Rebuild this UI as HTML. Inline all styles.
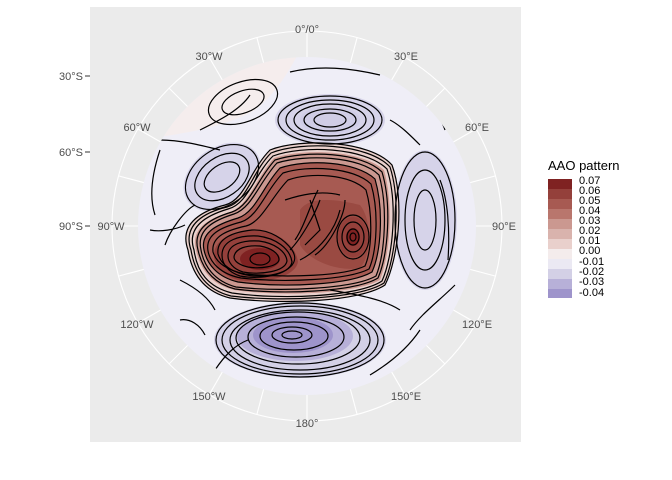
<!DOCTYPE html>
<html><head><style>
body{margin:0;background:#fff;}
svg{display:block;font-family:"Liberation Sans",sans-serif;}
</style></head><body>
<svg width="672" height="480" viewBox="0 0 672 480">
<defs>
<clipPath id="d"><circle cx="307" cy="226" r="169"/></clipPath>
</defs>
<rect x="90" y="7" width="431" height="435" fill="#EBEBEB"/>
<g stroke="#fff" stroke-width="1.1" fill="none">
<circle cx="307" cy="226" r="195"/>
<line x1="307" y1="226" x2="307" y2="31"/>
<line x1="307" y1="226" x2="357" y2="38"/>
<line x1="307" y1="226" x2="405" y2="57"/>
<line x1="307" y1="226" x2="445" y2="88"/>
<line x1="307" y1="226" x2="476" y2="129"/>
<line x1="307" y1="226" x2="495" y2="176"/>
<line x1="307" y1="226" x2="502" y2="226"/>
<line x1="307" y1="226" x2="495" y2="276"/>
<line x1="307" y1="226" x2="476" y2="323"/>
<line x1="307" y1="226" x2="445" y2="364"/>
<line x1="307" y1="226" x2="405" y2="395"/>
<line x1="307" y1="226" x2="357" y2="414"/>
<line x1="307" y1="226" x2="307" y2="421"/>
<line x1="307" y1="226" x2="257" y2="414"/>
<line x1="307" y1="226" x2="209" y2="395"/>
<line x1="307" y1="226" x2="169" y2="364"/>
<line x1="307" y1="226" x2="138" y2="323"/>
<line x1="307" y1="226" x2="119" y2="276"/>
<line x1="307" y1="226" x2="112" y2="226"/>
<line x1="307" y1="226" x2="119" y2="176"/>
<line x1="307" y1="226" x2="138" y2="129"/>
<line x1="307" y1="226" x2="169" y2="88"/>
<line x1="307" y1="226" x2="209" y2="57"/>
<line x1="307" y1="226" x2="257" y2="38"/>
</g>
<circle cx="307" cy="226" r="169" fill="#EFEEF7"/>
<g clip-path="url(#d)">
<path d="M140,140 C170,135 220,130 255,110 C275,95 290,70 300,50 L140,50 Z" fill="#F5EDED"/>
<ellipse cx="330" cy="120" rx="55" ry="26" fill="#D6D3E9"/>
<ellipse cx="330" cy="120" rx="30" ry="14" fill="#D0CDE6"/>
<ellipse cx="222" cy="177" rx="42" ry="30" transform="rotate(-35 222 177)" fill="#D6D3E9"/>
<ellipse cx="425" cy="220" rx="32" ry="70" fill="#D6D3E9"/>
<ellipse cx="300" cy="340" rx="86" ry="38" fill="#D3D0E6"/>
<ellipse cx="295" cy="336" rx="58" ry="25" fill="#B7B0D8"/>
<ellipse cx="293" cy="335" rx="40" ry="18" fill="#9E94CB"/>
<path d="M188,250 C178,222 205,210 225,205 C245,200 250,170 270,150 C300,138 370,140 392,165 C405,200 398,260 385,285 C360,302 280,305 230,298 C205,292 192,275 188,250 Z" fill="#E9D0CC"/>
<path d="M196,250 C190,228 210,218 230,212 C248,206 256,178 274,158 C304,148 362,150 384,170 C394,205 390,255 380,280 C356,294 280,297 234,290 C210,284 200,268 196,250 Z" fill="#CB9890"/>
<path d="M204,250 C200,232 218,224 238,218 C256,212 263,186 280,168 C307,159 356,161 375,179 C384,210 381,252 372,272 C350,285 284,288 238,282 C217,277 207,264 204,250 Z" fill="#A75A52"/>
<path d="M214,255 C214,238 236,230 256,230 C280,232 296,246 298,262 C295,278 262,284 238,280 C224,276 214,266 214,255 Z" fill="#94403B"/>
<path d="M300,210 C310,195 340,200 360,205 C372,220 372,255 360,268 C340,272 310,262 300,245 Z" fill="#9A4A42"/>
<ellipse cx="260" cy="259" rx="20" ry="11" fill="#7F2222"/>
<ellipse cx="353" cy="237" rx="15" ry="20" fill="#94403B"/>
<ellipse cx="353" cy="237" rx="7" ry="9" fill="#7F2222"/>
<g fill="none" stroke="#000" stroke-width="1.2">
<path d="M188,250 C178,222 205,210 225,205 C245,200 250,170 270,150 C300,138 370,140 392,165 C405,200 398,260 385,285 C360,302 280,305 230,298 C205,292 192,275 188,250 Z"/>
<path d="M191,250 C182,224 206,212 227,207 C247,202 252,172 271,153 C301,141 368,143 390,167 C401,201 396,258 384,283 C359,299 280,302 231,296 C207,290 195,274 191,250 Z"/>
<path d="M194,250 C186,226 208,215 228,209 C248,204 254,175 273,156 C302,145 365,147 387,169 C398,203 393,257 382,281 C358,297 280,300 232,293 C208,287 197,272 194,250 Z"/>
<path d="M198,250 C192,228 212,218 232,212 C250,206 258,178 275,160 C305,150 362,152 382,172 C392,205 388,255 378,278 C355,292 280,295 235,289 C212,283 202,268 198,250 Z"/>
<path d="M201,250 C196,229 215,220 234,214 C252,208 260,181 277,163 C306,154 360,156 379,175 C388,206 385,254 376,276 C353,289 281,292 236,287 C214,281 204,266 201,250 Z"/>
<path d="M204,250 C200,232 218,224 238,218 C256,212 263,186 280,168 C307,159 356,161 375,179 C384,210 381,252 372,272 C350,285 284,288 238,282 C217,277 207,264 204,250 Z"/>
<path d="M208,251 C205,234 222,227 241,222 C258,217 266,190 283,173 C308,165 353,167 371,184 C379,211 377,251 369,269 C348,280 285,283 241,278 C220,274 210,262 208,251 Z"/>
<path d="M213,252 C211,236 228,230 246,226 C262,222 272,196 288,180 C310,172 350,174 366,190 C373,214 372,250 365,266 C345,276 288,278 245,274 C226,270 216,262 213,252 Z"/>
<path d="M218,254 C216,238 234,232 252,230 C270,229 285,240 292,250 C300,262 290,274 262,276 C240,277 222,268 218,254 Z"/>
<path d="M222,255 C222,240 240,235 258,236 C275,238 290,248 292,262 C290,275 260,280 240,276 C228,272 222,264 222,255 Z"/>
<path d="M228,256 C228,244 243,240 259,241 C274,243 286,251 287,261 C285,272 260,275 243,272 C233,269 228,262 228,256 Z"/>
<path d="M234,257 C235,248 247,245 260,246 C271,248 279,253 279,260 C277,267 260,269 248,267 C239,265 234,261 234,257 Z"/>
<ellipse cx="260" cy="259" rx="10" ry="6"/>
<path d="M290,250 C300,240 315,215 320,200 M300,260 C320,250 335,230 340,210 M310,200 L320,230 L305,245 M295,240 C305,225 310,205 318,190 M315,255 C330,245 345,215 345,200 M285,200 C300,195 320,190 340,195"/>
<ellipse cx="353" cy="237" rx="16" ry="22"/>
<ellipse cx="353" cy="237" rx="11" ry="15"/>
<ellipse cx="353" cy="237" rx="6" ry="8"/>
<ellipse cx="353" cy="237" rx="3" ry="4"/>
<ellipse cx="330" cy="120" rx="52" ry="24"/>
<ellipse cx="330" cy="120" rx="44" ry="20"/>
<ellipse cx="330" cy="120" rx="36" ry="16"/>
<ellipse cx="330" cy="120" rx="26" ry="11"/>
<ellipse cx="330" cy="120" rx="16" ry="7"/>
<ellipse cx="222" cy="177" rx="40" ry="28" transform="rotate(-35 222 177)"/>
<ellipse cx="222" cy="177" rx="30" ry="20" transform="rotate(-35 222 177)"/>
<ellipse cx="222" cy="177" rx="20" ry="12" transform="rotate(-35 222 177)"/>
<ellipse cx="425" cy="220" rx="30" ry="68"/>
<ellipse cx="425" cy="220" rx="20" ry="50"/>
<ellipse cx="425" cy="220" rx="11" ry="30"/>
<ellipse cx="300" cy="340" rx="84" ry="37"/>
<ellipse cx="300" cy="340" rx="78" ry="34"/>
<ellipse cx="300" cy="340" rx="70" ry="30"/>
<ellipse cx="298" cy="338" rx="62" ry="26"/>
<ellipse cx="296" cy="337" rx="48" ry="20"/>
<ellipse cx="294" cy="336" rx="34" ry="14"/>
<ellipse cx="292" cy="335" rx="20" ry="8"/>
<ellipse cx="292" cy="335" rx="10" ry="4"/>
<ellipse cx="243" cy="102" rx="36" ry="20" transform="rotate(-20 243 102)"/>
<ellipse cx="243" cy="102" rx="22" ry="11" transform="rotate(-20 243 102)"/>
<path d="M160,150 C150,180 150,200 155,215 M165,245 C170,230 185,210 195,205 M150,230 C160,232 175,230 185,225 M180,320 C190,318 200,325 205,335 M215,370 C225,355 235,345 248,340 M180,280 C200,290 210,300 215,310 M390,120 C400,125 410,135 420,145 M420,95 C430,105 440,115 445,130 M440,180 C448,200 450,230 448,260 M410,330 C420,315 440,300 455,285 M370,375 C395,360 410,345 420,330 M290,72 C320,65 350,68 380,75 M160,140 C180,140 200,145 220,150 M200,130 C220,120 240,110 250,95 M330,290 C360,295 385,300 400,310"/>
</g>
</g>
<g font-size="11" fill="#4D4D4D" text-anchor="middle">
<text x="307" y="33">0°/0°</text>
<text x="406" y="60">30°E</text>
<text x="477" y="131">60°E</text>
<text x="504" y="230">90°E</text>
<text x="477" y="328">120°E</text>
<text x="406" y="400">150°E</text>
<text x="307" y="427">180°</text>
<text x="209" y="400">150°W</text>
<text x="137" y="328">120°W</text>
<text x="111" y="230">90°W</text>
<text x="137" y="131">60°W</text>
<text x="209" y="60">30°W</text>
<g text-anchor="end"><text x="83" y="80">30°S</text><text x="83" y="156">60°S</text><text x="83" y="230">90°S</text></g>
</g>
<g stroke="#333" stroke-width="1"><line x1="85" y1="76" x2="90" y2="76"/><line x1="85" y1="152" x2="90" y2="152"/><line x1="85" y1="226" x2="90" y2="226"/></g>
<text x="548" y="170" font-size="13" fill="#000">AAO pattern</text>
<g>
<rect x="548" y="179" width="24" height="10" fill="#7F2222"/>
<rect x="548" y="189" width="24" height="10" fill="#94403B"/>
<rect x="548" y="199" width="24" height="10" fill="#A75A52"/>
<rect x="548" y="209" width="24" height="10" fill="#B9766D"/>
<rect x="548" y="219" width="24" height="10" fill="#CB9890"/>
<rect x="548" y="229" width="24" height="10" fill="#D9B3AD"/>
<rect x="548" y="239" width="24" height="10" fill="#E9D0CC"/>
<rect x="548" y="249" width="24" height="10" fill="#F4ECEC"/>
<rect x="548" y="259" width="24" height="10" fill="#EBE9F3"/>
<rect x="548" y="269" width="24" height="10" fill="#D3D0E6"/>
<rect x="548" y="279" width="24" height="10" fill="#B7B0D8"/>
<rect x="548" y="289" width="24" height="9" fill="#9E94CB"/>
</g>
<g font-size="11" fill="#000">
<text x="579" y="184">0.07</text><text x="579" y="194">0.06</text><text x="579" y="204">0.05</text>
<text x="579" y="214">0.04</text><text x="579" y="224">0.03</text><text x="579" y="234">0.02</text>
<text x="579" y="244">0.01</text><text x="579" y="254">0.00</text><text x="579" y="265">-0.01</text>
<text x="579" y="275">-0.02</text><text x="579" y="285">-0.03</text><text x="579" y="296">-0.04</text>
</g>
</svg>
</body></html>
